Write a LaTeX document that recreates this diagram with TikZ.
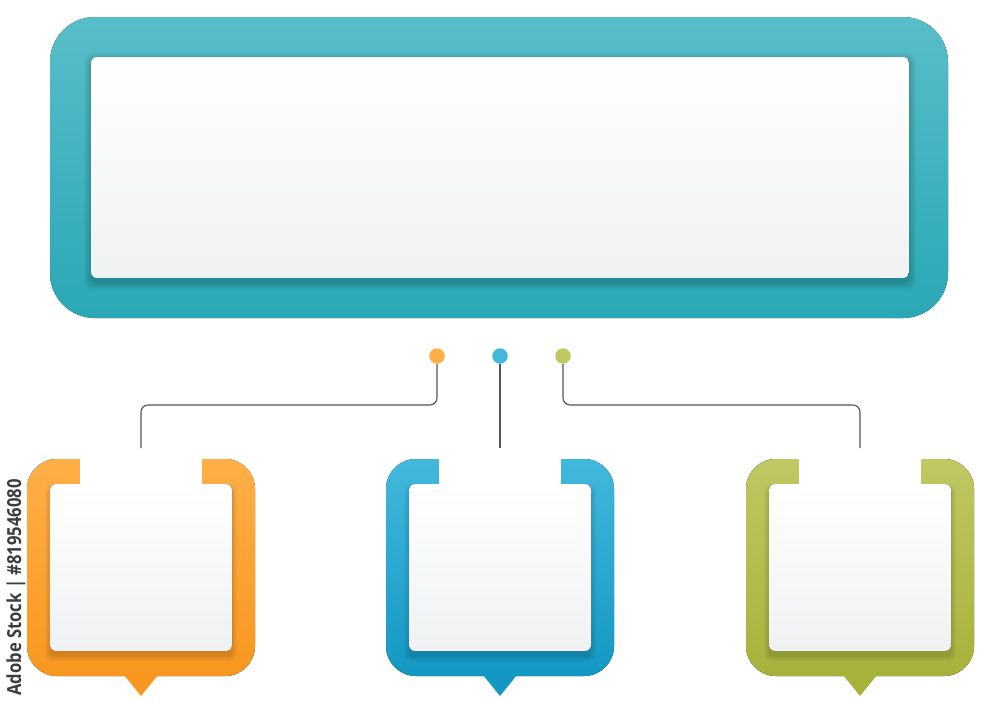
\documentclass[tikz,border=0pt]{standalone}
\usepackage{fontspec}
\setsansfont{Open Sans}
\newfontfamily\idfont[FakeStretch=0.86]{Open Sans}
\definecolor{tealTop}{HTML}{58BEC9}
\definecolor{tealBot}{HTML}{2AA7B5}
\definecolor{orangeTop}{HTML}{FFAF48}
\definecolor{orangeBot}{HTML}{F8971F}
\definecolor{blueTop}{HTML}{42B8DB}
\definecolor{blueBot}{HTML}{1398C3}
\definecolor{greenTop}{HTML}{BFC862}
\definecolor{greenBot}{HTML}{A7B23B}
\definecolor{lineGray}{HTML}{555555}
\definecolor{paperBot}{HTML}{F0F1F2}
\definecolor{idGray}{HTML}{3C3C3C}

\begin{document}
\begin{tikzpicture}[x=0.02cm, y=-0.02cm,
    conn/.style={draw=lineGray, line width=0.65pt, rounded corners=4pt},
    dot/.style={circle, inner sep=0pt, minimum size=0.31cm},
    paper/.style={top color=white, bottom color=paperBot, rounded corners=0.12cm}]
  \useasboundingbox (0,0) rectangle (1000,714);

  % header frame
  \fill[top color=tealTop, bottom color=tealBot, rounded corners=0.9cm] (50,17) rectangle (948,318);
  \foreach \s in {0,...,7}
    \fill[black, opacity=0.022, rounded corners=0.16cm] (91-\s,60-\s) rectangle (909+\s,283+\s);
  \node[paper, inner sep=0pt, minimum width=16.36cm, minimum height=4.42cm] (head) at (500,167.5) {};

  % three boxes
  \foreach \c/\col in {141/orange, 500/blue, 860/green} {
    \fill[top color=\col Top, bottom color=\col Bot, rounded corners=0.6cm] (\c-114,459) rectangle (\c+114,676);
    \fill[\col Bot] (\c-17,675) -- (\c,696) -- (\c+17,675) -- cycle;
    \foreach \s in {0,...,5}
      \fill[black, opacity=0.022, rounded corners=0.1cm] (\c-91-\s,490-\s) rectangle (\c+91+\s,656+\s);
    \fill[white] (\c-61,456) rectangle (\c+61,485);
    \fill[paper] (\c-91,484) rectangle (\c+91,651);
  }

  % dots and connectors
  \node[dot, fill=orangeTop] (odot) at (437,356) {};
  \node[dot, fill=blueTop] (bdot) at (500,356) {};
  \node[dot, fill=greenTop] (gdot) at (563,356) {};
  \coordinate (obend) at (141,405);
  \coordinate (otop) at (141,448);
  \coordinate (btop) at (500,448);
  \coordinate (gbend) at (860,405);
  \coordinate (gtop) at (860,448);
  \draw[conn] (odot) |- (obend) -- (otop);
  \draw[conn] (bdot) -- (btop);
  \draw[conn] (gdot) |- (gbend) -- (gtop);

  \node[rotate=90, anchor=west, inner sep=0pt, text=idGray, font=\idfont\bfseries\fontsize{11}{13}\selectfont] (stockid) at (16,696) {Adobe Stock | \#819546080};
\end{tikzpicture}
\end{document}
